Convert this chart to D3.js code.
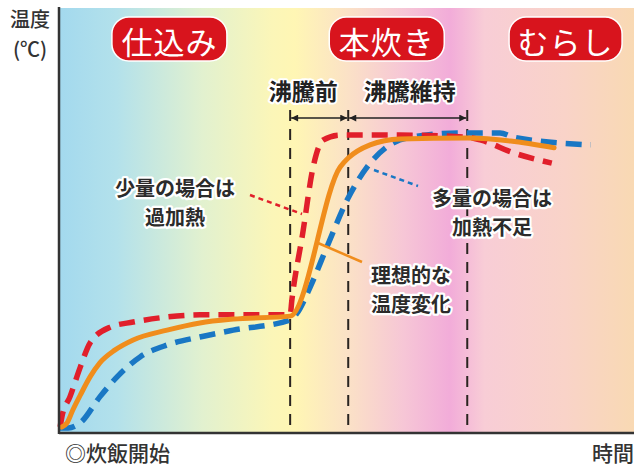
<!DOCTYPE html>
<html><head><meta charset="utf-8">
<script src="https://cdn.jsdelivr.net/npm/d3@7"></script>
<style>
html,body{margin:0;padding:0;background:#fff;}
svg{display:block;font-family:"Noto Sans CJK JP","Noto Sans",sans-serif;}
</style></head>
<body>
<svg id="c" width="634" height="466"></svg>
<script>
// ---- data (time 0-100, temperature 0-100, arbitrary units) ----
const idealT   = [0.5,1.4,2.4,3.7,5.4,7.1,9.7,12.9,18.8,24.5,30.3,40.2,48.9,50.3,54.1,59.3,71.0,86.1];
const idealV   = [1.4,2.4,5.4,8.9,13.2,16.5,19.5,21.9,24.2,25.9,26.8,27.5,62.6,64.7,67.8,69.2,69.4,67.1];
const smallT   = [0.2,0.5,1.9,3.7,5.4,8.9,12.9,18.8,24.5,40.2,40.5,42.4,44.2,45.9,48.9,59.3,71.0,73.4,79.1,85.7];
const smallV   = [1.4,3.8,8.5,15.5,21.2,24.9,26.1,27.3,27.8,27.8,31.3,47.1,62.6,68.9,70.1,70.1,69.6,68.9,65.9,63.5];
const largeT   = [0,1.6,3.7,7.1,10.1,14.1,18.8,24.5,30.3,40.2,41.4,43.7,46.6,50.1,53.6,57.0,60.5,69.7,76.7,79.1,92.5];
const largeV   = [1.2,1.2,2.4,8.5,13.2,17.9,20.7,22.6,24.2,26.6,28.2,34.4,43.8,54.8,62.6,67.3,69.4,70.6,70.6,69.6,67.8];
const phaseBounds = [40.2, 50.3, 71.0];          // 沸騰前 start, 沸騰維持 start, むらし start
const phaseNames  = ["仕込み","本炊き","むらし"];
const phaseCenters = [19.2, 57.0, 88.1];
const subNames    = ["沸騰前","沸騰維持"];
const yLabel = ["温度","(℃)"];
const xStartLabel = "◎炊飯開始";
const xEndLabel = "時間";
const noteSmall = ["少量の場合は","過加熱"];
const noteLarge = ["多量の場合は","加熱不足"];
const noteIdeal = ["理想的な","温度変化"];

const svg = d3.select("#c");
const L=59, R=634, T=8, B=433;
const x = d3.scaleLinear().domain([0,100]).range([L,R]);
const y = d3.scaleLinear().domain([0,100]).range([B,T]);

// background gradient
const defs = svg.append("defs");
const g = defs.append("linearGradient").attr("id","bg").attr("x1","0").attr("x2","1").attr("y1","0").attr("y2","0");
[[0,"#a3d9ee"],[0.10,"#b3e1eb"],[0.25,"#e2f1cf"],[0.37,"#fbf6b8"],[0.41,"#fff6b4"],[0.50,"#fbe2c6"],
 [0.60,"#f6c6d6"],[0.68,"#f2acd9"],[0.74,"#f8cdd6"],[0.88,"#f9d3c8"],[1,"#f9d9b3"]]
 .forEach(([o,c])=>g.append("stop").attr("offset",o).attr("stop-color",c));
svg.append("rect").attr("x",x(0)).attr("y",T).attr("width",x(100)-x(0)).attr("height",B-T).attr("fill","url(#bg)");

// vertical dashed boundaries
const topV = 76;
svg.selectAll(".vb").data(phaseBounds).join("line")
  .attr("x1",d=>x(d)).attr("x2",d=>x(d)).attr("y1",y(topV)).attr("y2",B)
  .attr("stroke","#2a2420").attr("stroke-width",2).attr("stroke-dasharray","11,8");

// arrows
const mk = defs.append("marker").attr("id","ah").attr("viewBox","0 0 10 10").attr("refX",10).attr("refY",5)
  .attr("markerWidth",9).attr("markerHeight",7).attr("orient","auto-start-reverse").attr("markerUnits","userSpaceOnUse");
mk.append("path").attr("d","M0,0L10,5L0,10Z").attr("fill","#222");
const arrV = 74.1;
[[phaseBounds[0],phaseBounds[1]],[phaseBounds[1],phaseBounds[2]]].forEach(([a,b])=>{
  svg.append("line").attr("x1",x(a)+1).attr("x2",x(b)-1).attr("y1",y(arrV)).attr("y2",y(arrV))
    .attr("stroke","#222").attr("stroke-width",1.5)
    .attr("marker-start","url(#ah)").attr("marker-end","url(#ah)");
});
svg.selectAll(".sub").data(subNames).join("text")
  .attr("x",(d,i)=>i===0? x((phaseBounds[0]+phaseBounds[1])/2)-16 : x((phaseBounds[1]+phaseBounds[2])/2)+2)
  .attr("y",y(arrV)-28).attr("text-anchor","middle").attr("dominant-baseline","central")
  .attr("font-size",23).attr("font-weight",700).attr("fill","#222")
  .attr("stroke","#fff").attr("stroke-width",4).attr("paint-order","stroke").attr("stroke-linejoin","round")
  .text(d=>d);

// curves
const line = d3.line().x(d=>x(d[0])).y(d=>y(d[1])).curve(d3.curveMonotoneX);
const zip = (a,b)=>a.map((v,i)=>[v,b[i]]);
svg.append("path").datum(zip(largeT,largeV)).attr("d",line).attr("fill","none")
  .attr("stroke","#1977c4").attr("stroke-width",5.5).attr("stroke-dasharray","16,9");
svg.append("path").datum(zip(smallT,smallV)).attr("d",line).attr("fill","none")
  .attr("stroke","#e11f2b").attr("stroke-width",5.5).attr("stroke-dasharray","16,9");
svg.append("path").datum(zip(idealT,idealV)).attr("d",line).attr("fill","none")
  .attr("stroke","#f08d1c").attr("stroke-width",5).attr("stroke-linecap","round");

// leader lines
svg.append("line").attr("x1",250).attr("y1",195).attr("x2",302).attr("y2",214)
  .attr("stroke","#e11f2b").attr("stroke-width",2.5).attr("stroke-dasharray","5,4");
svg.append("line").attr("x1",374).attr("y1",170).attr("x2",418).attr("y2",186)
  .attr("stroke","#1977c4").attr("stroke-width",2.5).attr("stroke-dasharray","5,4");
svg.append("line").attr("x1",318).attr("y1",243).attr("x2",362).attr("y2",262)
  .attr("stroke","#f08d1c").attr("stroke-width",2.5);

function note(lines, cx, cy, anchor){
  svg.append("g").selectAll("text").data(lines).join("text")
    .attr("x",cx).attr("y",(d,i)=>cy-1+i*29).attr("text-anchor",anchor).attr("dominant-baseline","central")
    .attr("font-size",20).attr("font-weight",700).attr("fill","#2b2b2b")
    .attr("stroke","#fff").attr("stroke-width",4.5).attr("paint-order","stroke").attr("stroke-linejoin","round")
    .text(d=>d);
}
note(noteSmall,175,188,"middle");
note(noteLarge,492,198,"middle");
note(noteIdeal,371,275,"start");

// phase labels
const pw=[115,115,113];
phaseNames.forEach((n,i)=>{
  const cx = x(phaseCenters[i]);
  svg.append("rect").attr("x",cx-pw[i]/2).attr("y",17).attr("width",pw[i]).attr("height",44).attr("rx",17)
    .attr("fill","#d8141d").attr("stroke","#fff").attr("stroke-width",1.5);
  svg.append("text").attr("x",cx).attr("y",40).attr("text-anchor","middle").attr("dominant-baseline","central")
    .attr("font-size",31).attr("font-weight",400).attr("fill","#fff").attr("letter-spacing",1).text(n);
});

// axes
svg.append("line").attr("x1",L).attr("x2",L).attr("y1",T-1).attr("y2",B+1).attr("stroke","#333").attr("stroke-width",2.5);
svg.append("line").attr("x1",L).attr("x2",R).attr("y1",B).attr("y2",B).attr("stroke","#333").attr("stroke-width",2.5);

// axis labels
svg.selectAll(".yl").data(yLabel).join("text").attr("x",30).attr("y",(d,i)=>18+i*30)
  .attr("text-anchor","middle").attr("dominant-baseline","central").attr("font-size",20).attr("font-weight",500)
  .attr("fill","#333").text(d=>d);
svg.append("text").attr("x",65).attr("y",452).attr("dominant-baseline","central").attr("font-size",21)
  .attr("font-weight",500).attr("fill","#333").text(xStartLabel);
svg.append("text").attr("x",592).attr("y",452).attr("dominant-baseline","central").attr("font-size",21)
  .attr("font-weight",500).attr("fill","#333").text(xEndLabel);
</script>
</body></html>
